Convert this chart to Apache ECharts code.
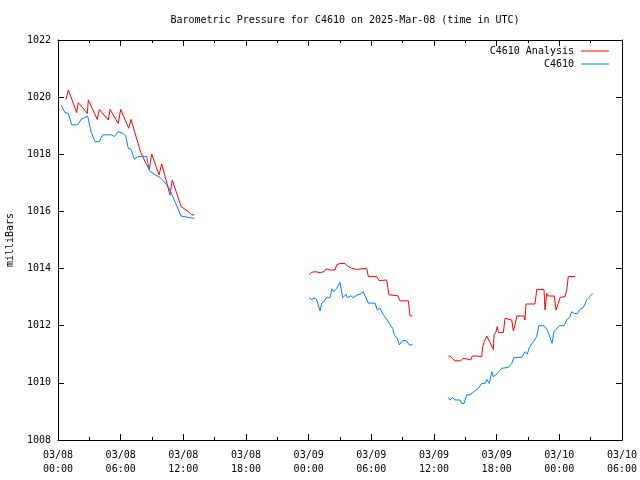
<!DOCTYPE html>
<html><head><meta charset="utf-8">
<script src="https://cdn.jsdelivr.net/npm/echarts@6/dist/echarts.min.js"></script>
<style>html,body{margin:0;padding:0;background:#fff}#c{width:640px;height:480px}</style>
</head><body><div id="c"></div>
<script>
// hours since 2025-03-08 00:00 UTC
const tickLabels = ['03/08\n00:00','03/08\n06:00','03/08\n12:00','03/08\n18:00','03/09\n00:00','03/09\n06:00','03/09\n12:00','03/09\n18:00','03/10\n00:00','03/10\n06:00'];
const analysisName = 'C4610 Analysis';
const obsName = 'C4610';

const analysisHours1 = [0.77,0.99,1.79,1.94,2.81,2.90,3.76,3.95,4.82,4.98,5.77,6.00,6.77,6.99,7.92,8.49,8.74,8.97,9.67,9.93,10.34,10.72,10.94,11.37,11.78,12.48,12.80,13.05];
const analysisVals1  = [1019.92,1020.25,1019.46,1019.81,1019.43,1019.90,1019.22,1019.57,1019.20,1019.57,1019.08,1019.57,1018.91,1019.22,1018.06,1017.63,1017.47,1018.01,1017.28,1017.66,1017.10,1016.58,1017.10,1016.63,1016.17,1015.99,1015.88,1015.88];
const analysisHours2 = [24.06,24.29,24.61,25.09,25.47,25.66,26.04,26.52,26.69,27.00,27.48,27.70,28.12,28.60,29.56,29.71,30.52,30.74,31.47,31.69,32.53,32.75,33.54,33.70,33.92];
const analysisVals2  = [1013.80,1013.87,1013.89,1013.86,1013.89,1013.99,1013.95,1013.95,1014.13,1014.18,1014.18,1014.09,1014.01,1013.97,1014.01,1013.72,1013.72,1013.58,1013.60,1013.08,1013.05,1012.87,1012.87,1012.35,1012.34];
const analysisHours3 = [37.37,37.60,37.79,38.01,38.56,38.75,38.97,39.07,39.52,39.67,40.09,40.15,40.57,40.66,40.82,41.05,41.20,41.36,41.53,41.68,41.75,41.94,42.06,42.16,42.64,42.80,42.96,43.44,43.60,43.76,43.92,44.62,44.71,44.81,45.67,45.84,46.53,46.63,46.79,46.94,47.52,47.68,47.90,48.07,48.54,48.71,48.86,49.50];
const analysisVals3  = [1010.94,1010.92,1010.84,1010.77,1010.77,1010.85,1010.85,1010.80,1010.80,1010.94,1010.94,1010.92,1010.92,1011.27,1011.44,1011.64,1011.62,1011.41,1011.38,1011.17,1011.68,1011.79,1011.97,1011.76,1011.76,1012.26,1012.22,1012.20,1011.82,1012.03,1012.34,1012.34,1012.20,1012.76,1012.76,1013.27,1013.27,1012.55,1013.13,1013.04,1013.04,1012.55,1012.78,1012.99,1013.02,1013.25,1013.72,1013.72];

const obsHours1 = [0.29,0.67,0.99,1.31,1.89,2.20,2.59,2.84,3.03,3.16,3.54,3.95,4.28,5.14,5.39,5.77,6.25,6.48,6.73,6.99,7.31,7.63,8.49,8.74,9.29,9.77,10.56,11.20,11.78,12.48,13.05];
const obsVals1  = [1019.73,1019.46,1019.43,1019.03,1019.03,1019.22,1019.29,1019.34,1019.34,1018.79,1018.44,1018.44,1018.68,1018.68,1018.62,1018.79,1018.73,1018.64,1018.21,1018.17,1017.82,1017.92,1017.92,1017.43,1017.28,1017.19,1016.87,1016.34,1015.84,1015.79,1015.76];
const obsHours2 = [24.06,24.29,24.61,24.77,25.09,25.25,25.47,25.66,26.04,26.23,26.43,26.69,27.00,27.26,27.58,27.70,28.03,28.27,28.66,28.92,29.23,29.71,30.35,30.57,30.83,31.15,31.53,31.79,32.05,32.20,32.49,32.68,33.00,33.32,33.64,33.96];
const obsVals2  = [1012.98,1012.92,1012.98,1012.90,1012.52,1012.79,1012.84,1012.98,1012.98,1013.29,1013.19,1013.31,1013.52,1012.98,1013.10,1012.98,1013.05,1012.98,1013.08,1013.10,1013.19,1012.79,1012.79,1012.55,1012.61,1012.38,1012.20,1012.03,1011.91,1011.68,1011.56,1011.33,1011.48,1011.48,1011.33,1011.33];
const obsHours3 = [37.37,37.53,37.79,38.01,38.49,38.65,38.87,39.13,39.45,39.61,40.02,40.24,40.57,40.88,41.05,41.30,41.53,41.68,41.94,42.48,43.12,43.44,43.66,44.40,44.71,44.94,45.13,45.51,45.84,46.03,46.53,46.85,47.11,47.30,47.49,47.68,48.00,48.45,48.71,49.02,49.19,49.44,49.72,49.98,50.30,50.62,50.84,51.20];
const obsVals3  = [1009.49,1009.40,1009.49,1009.40,1009.40,1009.28,1009.28,1009.58,1009.58,1009.63,1009.75,1009.81,1009.98,1009.98,1010.12,1009.98,1010.39,1010.22,1010.28,1010.51,1010.54,1010.68,1010.89,1010.89,1011.09,1011.01,1011.24,1011.44,1011.62,1012.00,1012.00,1011.85,1011.59,1011.38,1011.79,1011.73,1012.00,1012.00,1012.20,1012.32,1012.49,1012.43,1012.43,1012.57,1012.64,1012.90,1012.99,1013.13];

const RED = '#ff0000', BLUE = '#0080ff';
const FONT = 'DejaVu Sans Mono';
const zip = (h, v) => h.map((x, i) => [x, v[i]]);
function seg(name, color, h, v) {
  return { name, type: 'line', data: zip(h, v), symbol: 'none', showSymbol: false,
    lineStyle: { color, width: 1 }, itemStyle: { color }, animation: false, silent: true };
}
const chart = echarts.init(document.getElementById('c'), null, { renderer: 'canvas' });
const tickStyle = { show: true, inside: true, length: 6, lineStyle: { color: '#000', width: 1 } };
const minorStyle = { show: true, splitNumber: 2, length: 3, lineStyle: { color: '#000', width: 1 } };
const legendBase = { orient: 'vertical', right: 26, align: 'right', icon: 'path://M0,0H28V1H0Z',
  itemWidth: 28, itemHeight: 1, itemGap: 3, selectedMode: false,
  textStyle: { fontFamily: FONT, fontSize: 10, color: '#000', padding: [0, 2, 0, 0] } };
chart.setOption({
  backgroundColor: '#fff',
  animation: false,
  title: { text: 'Barometric Pressure for C4610 on 2025-Mar-08 (time in UTC)', left: 340, textAlign: 'center', top: 10,
    textStyle: { fontFamily: FONT, fontSize: 10, fontWeight: 'normal', color: '#000' } },
  legend: [
    Object.assign({}, legendBase, { data: [analysisName], top: 41 }),
    Object.assign({}, legendBase, { data: [obsName], top: 54 })
  ],
  grid: { left: 58, right: 18, top: 40, bottom: 40, containLabel: false, outerBoundsMode: 'none' },
  xAxis: [
    { type: 'value', min: 0, max: 54, interval: 6, position: 'bottom',
      axisLine: { show: true, onZero: false, lineStyle: { color: '#000', width: 1 } },
      axisTick: tickStyle, minorTick: minorStyle, splitLine: { show: false },
      axisLabel: { fontFamily: FONT, fontSize: 10, color: '#000', margin: 8, lineHeight: 14,
        formatter: v => tickLabels[Math.round(v / 6)] } },
    { type: 'value', min: 0, max: 54, interval: 6, position: 'top',
      axisLine: { show: true, onZero: false, lineStyle: { color: '#000', width: 1 } },
      axisTick: tickStyle, minorTick: minorStyle, splitLine: { show: false }, axisLabel: { show: false } }
  ],
  yAxis: [
    { type: 'value', min: 1008, max: 1022, interval: 2, position: 'left',
      name: 'milliBars', nameLocation: 'middle', nameGap: 43, nameRotate: 90,
      nameTextStyle: { fontFamily: FONT, fontSize: 10, color: '#000' },
      axisLine: { show: true, onZero: false, lineStyle: { color: '#000', width: 1 } },
      axisTick: tickStyle, splitLine: { show: false },
      axisLabel: { fontFamily: FONT, fontSize: 10, color: '#000', margin: 7, formatter: v => String(v) } },
    { type: 'value', min: 1008, max: 1022, interval: 2, position: 'right',
      axisLine: { show: true, onZero: false, lineStyle: { color: '#000', width: 1 } },
      axisTick: tickStyle, splitLine: { show: false }, axisLabel: { show: false } }
  ],
  series: [
    seg(analysisName, RED, analysisHours1, analysisVals1),
    seg(analysisName, RED, analysisHours2, analysisVals2),
    seg(analysisName, RED, analysisHours3, analysisVals3),
    seg(obsName, BLUE, obsHours1, obsVals1),
    seg(obsName, BLUE, obsHours2, obsVals2),
    seg(obsName, BLUE, obsHours3, obsVals3)
  ]
});
</script></body></html>
